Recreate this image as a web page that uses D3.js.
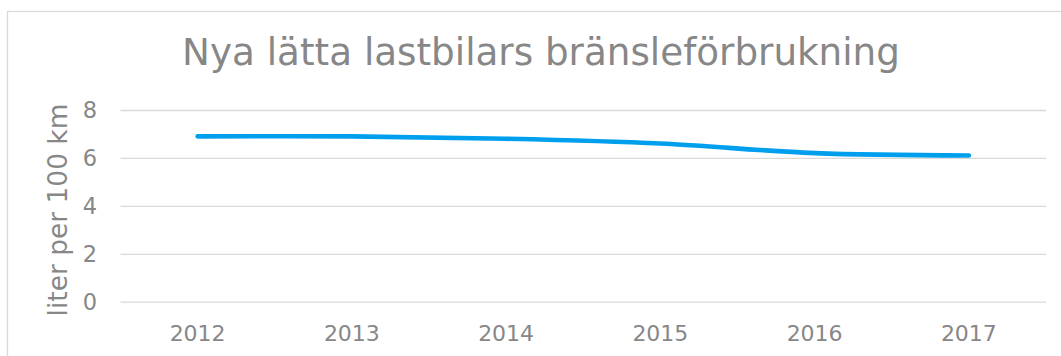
<!DOCTYPE html>
<html>
<head>
<meta charset="utf-8">
<script src="https://cdn.jsdelivr.net/npm/d3@7"></script>
<style>
  html, body { margin: 0; padding: 0; background: #fff; }
  svg { display: block; }
  text { font-family: "DejaVu Sans", Verdana, sans-serif; fill: #878787; }
</style>
</head>
<body>
<svg id="chart" width="1061" height="356"></svg>
<script>
const title = "Nya lätta lastbilars bränsleförbrukning";
const yAxisTitle = "liter per 100 km";
const years = ["2012", "2013", "2014", "2015", "2016", "2017"];
const consumption = [6.9, 6.9, 6.8, 6.6, 6.2, 6.1];
const yTicks = [0, 2, 4, 6, 8];

const plot = { left: 120.5, right: 1046, top: 110, bottom: 301.7 };
const textColor = "#878787";

const svg = d3.select("#chart");

// chart border
svg.append("rect")
  .attr("x", 7.5).attr("y", 11.5)
  .attr("width", 1080).attr("height", 400)
  .attr("fill", "#fff").attr("stroke", "#d9d9d9").attr("stroke-width", 1.3);

const x = d3.scaleBand().domain(years).range([plot.left, plot.right]);
const y = d3.scaleLinear().domain([0, 8]).range([plot.bottom, plot.top]);

function fitText(sel, target, size) {
  sel.attr("font-size", size);
  const w = sel.node().getComputedTextLength();
  sel.attr("font-size", size * target / w);
}

// gridlines + y tick labels
const yAxis = d3.axisLeft(y).tickValues(yTicks).tickSize(-(plot.right - plot.left)).tickPadding(0);
const gy = svg.append("g").attr("transform", `translate(${plot.left},0)`).call(yAxis);
gy.select(".domain").remove();
gy.selectAll(".tick line").attr("stroke", "#d9d9d9").attr("stroke-width", 1.3);
gy.selectAll(".tick text")
  .attr("x", -23.5).attr("dy", null).attr("y", 7.5)
  .attr("text-anchor", "end")
  .attr("font-family", "DejaVu Sans").attr("font-size", 22.5).attr("fill", textColor);

// x axis labels
const xAxis = d3.axisBottom(x).tickSize(0).tickPadding(0);
const gx = svg.append("g").attr("transform", `translate(0,${plot.bottom})`).call(xAxis);
gx.select(".domain").remove();
gx.selectAll(".tick text")
  .attr("dy", null).attr("y", 39.5)
  .attr("font-family", "DejaVu Sans").attr("font-size", 20.5).attr("fill", textColor);
const sample = gx.select(".tick text");
const w0 = sample.node().getComputedTextLength();
gx.selectAll(".tick text").attr("font-size", 20.5 * 56 / w0);

// line
const line = d3.line()
  .x((d, i) => x(years[i]) + x.bandwidth() / 2)
  .y(d => y(d))
  .curve(d3.curveCatmullRom.alpha(0));
svg.append("path")
  .datum(consumption)
  .attr("d", line)
  .attr("fill", "none")
  .attr("stroke", "#009fee")
  .attr("stroke-width", 4.6)
  .attr("stroke-linecap", "round")
  .attr("stroke-linejoin", "round");

// title
const t = svg.append("text")
  .attr("x", 541).attr("y", 65)
  .attr("text-anchor", "middle")
  .text(title);
fitText(t, 718, 30);

// y axis title
const yt = svg.append("text")
  .attr("transform", "translate(66.5,210) rotate(-90)")
  .attr("text-anchor", "middle")
  .text(yAxisTitle);
fitText(yt, 213, 22);
</script>
</body>
</html>
